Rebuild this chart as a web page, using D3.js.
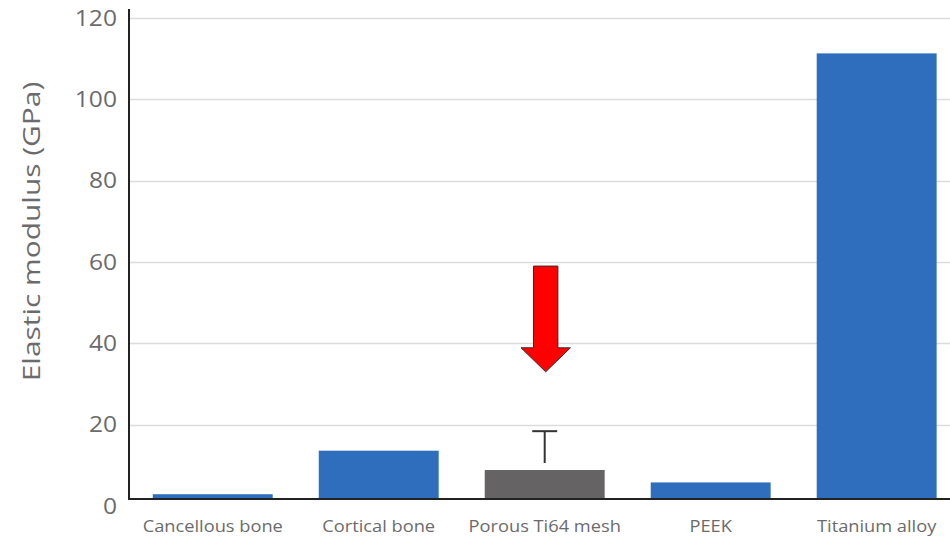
<!DOCTYPE html>
<html>
<head>
<meta charset="utf-8">
<script src="https://cdn.jsdelivr.net/npm/d3@7"></script>
<style>
  html, body { margin: 0; padding: 0; background: #fff; }
  svg { display: block; }
</style>
</head>
<body>
<svg id="chart" width="950" height="536"></svg>
<script>
// ---- data ----
const categories = ["Cancellous bone", "Cortical bone", "Porous Ti64 mesh", "PEEK", "Titanium alloy"];
const values = [2.9, 13.6, 8.85, 5.8, 111.3];
const errorTop = [null, null, 18.4, null, null];
const highlighted = [false, false, true, false, false];
const yTicks = [0, 20, 40, 60, 80, 100, 120];
const yTitle = "Elastic modulus (GPa)";
const arrowTarget = "Porous Ti64 mesh";
const arrowFrom = 59;   // value where the arrow starts
const arrowTo = 33;     // value where the arrow tip points

// ---- layout ----
const svg = d3.select("#chart");
const W = 950, H = 536;
const axisX = 129;
const y = d3.scaleLinear().domain([0, 120]).range([506, 18]);
const baseY = 499;
const x = d3.scaleBand().domain(categories).range([129.7, 959.7]).paddingInner(0.2775).paddingOuter(0.139);

const blue = "#2e6ebd", gray = "#656363", textCol = "#6b6b6b";
const font = "'Open Sans', sans-serif";

// stretch text horizontally (along its direction) by factor k
function stretch(sel, k) {
  sel.each(function () {
    const len = this.getComputedTextLength();
    d3.select(this).attr("textLength", len * k).attr("lengthAdjust", "spacingAndGlyphs");
  });
}

// gridlines
svg.append("g").selectAll("line").data(yTicks.filter(d => d > 0)).join("line")
  .attr("x1", axisX).attr("x2", W)
  .attr("y1", d => Math.round(y(d)) + 0.5).attr("y2", d => Math.round(y(d)) + 0.5)
  .attr("stroke", "#dcdcdc").attr("stroke-width", 1.3);

// y tick labels
svg.append("g").selectAll("text").data(yTicks).join("text")
  .attr("x", 117).attr("y", d => y(d)).attr("dy", "0.36em")
  .attr("text-anchor", "end")
  .attr("font-family", font).attr("font-size", 21)
  .attr("fill", textCol).text(d => d)
  .call(stretch, 1.17);

// y title
svg.append("text")
  .attr("transform", `translate(40,231.5) rotate(-90)`)
  .attr("text-anchor", "middle")
  .attr("font-family", font).attr("font-size", 23)
  .attr("fill", textCol).text(yTitle)
  .call(stretch, 1.3);

// bars
svg.append("g").selectAll("rect").data(categories).join("rect")
  .attr("x", d => x(d)).attr("width", x.bandwidth())
  .attr("y", (d, i) => y(values[i]))
  .attr("height", (d, i) => baseY - y(values[i]))
  .attr("fill", (d, i) => highlighted[i] ? gray : blue);

// error bars
const eb = svg.append("g");
categories.forEach((c, i) => {
  if (errorTop[i] == null) return;
  const cx = x(c) + x.bandwidth() / 2;
  eb.append("line").attr("x1", cx).attr("x2", cx)
    .attr("y1", y(errorTop[i])).attr("y2", y(values[i]) - 7)
    .attr("stroke", "#333").attr("stroke-width", 2);
  eb.append("line").attr("x1", cx - 12.5).attr("x2", cx + 12.5)
    .attr("y1", y(errorTop[i])).attr("y2", y(errorTop[i]))
    .attr("stroke", "#333").attr("stroke-width", 2);
});

// axes lines
svg.append("line").attr("x1", axisX).attr("x2", axisX).attr("y1", 9).attr("y2", baseY + 1)
  .attr("stroke", "#222").attr("stroke-width", 2);
svg.append("line").attr("x1", axisX - 1).attr("x2", W).attr("y1", baseY).attr("y2", baseY)
  .attr("stroke", "#222").attr("stroke-width", 2);

// category labels
svg.append("g").selectAll("text").data(categories).join("text")
  .attr("x", d => x(d) + x.bandwidth() / 2).attr("y", 532)
  .attr("text-anchor", "middle")
  .attr("font-family", font).attr("font-size", 16)
  .attr("fill", textCol).text(d => d)
  .call(stretch, 1.14);

// arrow
const ax = x(arrowTarget) + x.bandwidth() / 2 + 1;
const y0 = y(arrowFrom), yTip = y(arrowTo), yHead = yTip - 24;
const sw = 12.2, hw = 24.7;
const pts = [[ax - sw, y0], [ax + sw, y0], [ax + sw, yHead], [ax + hw, yHead], [ax, yTip],
             [ax - hw, yHead], [ax - sw, yHead]];
svg.append("polygon").attr("points", pts.map(p => p.join(",")).join(" "))
  .attr("fill", "#ff0000").attr("stroke", "#3a2a2a").attr("stroke-width", 1);
</script>
</body>
</html>
